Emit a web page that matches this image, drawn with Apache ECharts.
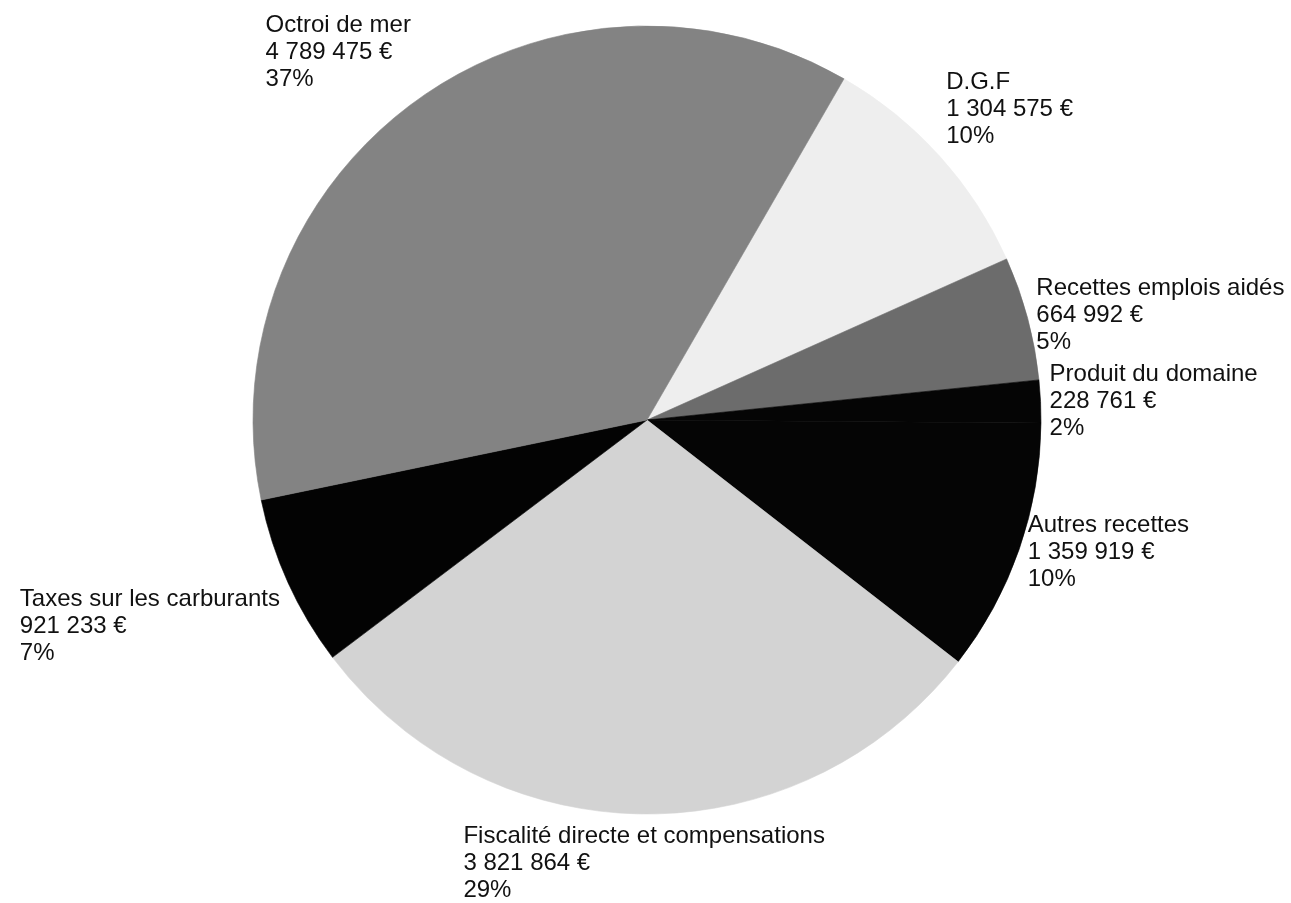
<!DOCTYPE html>
<html>
<head>
<meta charset="utf-8">
<script src="https://cdn.jsdelivr.net/npm/echarts@6/dist/echarts.min.js"></script>
<style>
  html, body { margin: 0; padding: 0; background: #fff; }
  #chart { width: 1291px; height: 903px; }
</style>
</head>
<body>
<div id="chart"></div>
<script>
// Budget receipts, listed clockwise from the D.G.F slice
const categories = [
  'D.G.F',
  'Recettes emplois aidés',
  'Produit du domaine',
  'Autres recettes',
  'Fiscalité directe et compensations',
  'Taxes sur les carburants',
  'Octroi de mer'
];
const amounts = [1304575, 664992, 228761, 1359919, 3821864, 921233, 4789475];
const sliceColors = ['#eeeeee', '#6c6c6c', '#050505', '#050505', '#d3d3d3', '#030303', '#838383'];

// Pie geometry
const CX = 647, CY = 420, R = 394, START_ANGLE = 60, LABEL_GAP = 9;

const total = amounts.reduce((a, b) => a + b, 0);
// Mid-angle of each slice, in degrees clockwise from 12 o'clock
const midAngles = [];
let running = 0;
amounts.forEach(v => {
  midAngles.push((90 - START_ANGLE) + (running + v / 2) / total * 360);
  running += v;
});

function formatAmount(n) {
  return String(n).replace(/\B(?=(\d{3})+(?!\d))/g, ' ');
}

const chart = echarts.init(document.getElementById('chart'), null, { renderer: 'canvas' });

chart.setOption({
  backgroundColor: '#ffffff',
  animation: false,
  series: [{
    type: 'pie',
    center: [CX, CY],
    radius: R,
    startAngle: START_ANGLE,
    clockwise: true,
    avoidLabelOverlap: false,
    data: categories.map((name, i) => ({
      name: name,
      value: amounts[i],
      itemStyle: { color: sliceColors[i], borderColor: sliceColors[i], borderWidth: 0.6 }
    })),
    emphasis: { disabled: true },
    label: {
      show: true,
      position: 'outside',
      fontFamily: '"Liberation Sans", Arial, sans-serif',
      fontSize: 24,
      lineHeight: 27,
      color: '#111',
      formatter: p => p.name + '\n' + formatAmount(p.value) + ' €\n' + Math.round(p.percent) + '%'
    },
    labelLine: { show: false },
    // Labels sit just outside the rim, anchored by the corner nearest the slice;
    // the lines inside each label stay left-aligned
    labelLayout: function (p) {
      const a = midAngles[p.dataIndex] * Math.PI / 180;
      const dx = Math.sin(a), dy = -Math.cos(a);
      const ax = CX + (R + LABEL_GAP) * dx;
      const ay = CY + (R + LABEL_GAP) * dy;
      const w = p.labelRect.width;
      let x = ax;
      if (Math.abs(dx) < 0.2) x = ax - w / 2;
      else if (dx < 0) x = ax - w;
      return {
        x: x,
        y: ay,
        align: 'left',
        verticalAlign: Math.abs(dy) < 0.38 ? 'middle' : (dy > 0 ? 'top' : 'bottom')
      };
    }
  }]
});
</script>
</body>
</html>
